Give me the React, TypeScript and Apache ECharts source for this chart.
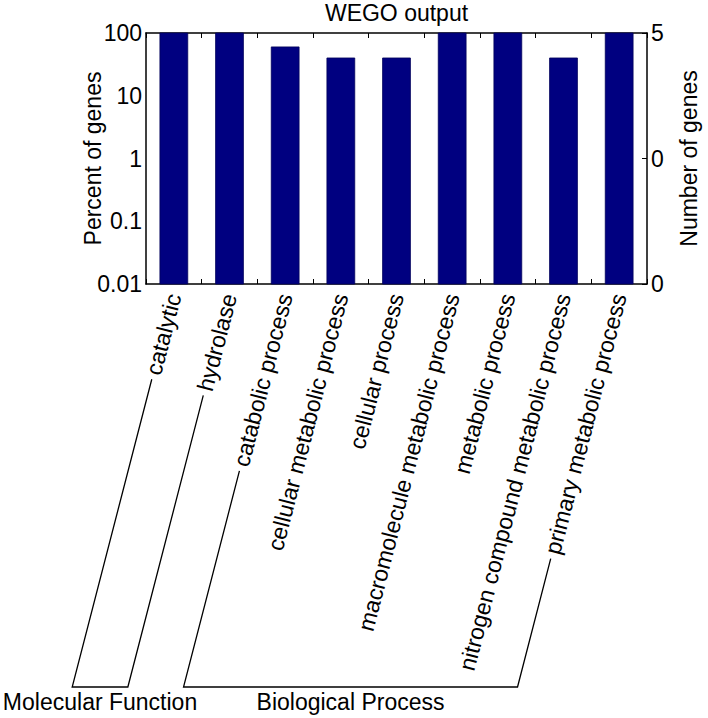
import React, { useEffect, useRef } from "react";
import * as echarts from "echarts";

const categories = [
  "catalytic",
  "hydrolase",
  "catabolic process",
  "cellular metabolic process",
  "cellular process",
  "macromolecule metabolic process",
  "metabolic process",
  "nitrogen compound metabolic process",
  "primary metabolic process",
];
const percentValues = [100, 100, 60, 40, 40, 100, 100, 40, 100];
const leftTickLabels = ["0.01", "0.1", "1", "10", "100"];
const rightTickLabels = ["0", "0", "5"];
const groupNames = ["Molecular Function", "Biological Process"];
const groupFirst = [0, 2];
const groupLast = [1, 8];

const FONT = "Liberation Sans, Arial, Helvetica, sans-serif";
const FS = 23;
const ROT = 75.5;
const LABEL_MARGIN = 10;
const GAP = 5;
const BRACKET_Y = 687;
const GROUP_LABEL_Y = 702;
const GRID = { left: 146, right: 61, top: 33, bottom: 434 };
const BAR_COLOR = "#000080";

function measure(text: string): number {
  const c = document.createElement("canvas");
  const ctx = c.getContext("2d");
  if (!ctx) return text.length * FS * 0.5;
  ctx.font = `${FS}px ${FONT}`;
  return ctx.measureText(text).width;
}

export default function App() {
  const ref = useRef<HTMLDivElement>(null);
  useEffect(() => {
    if (!ref.current) return;
    const chart = echarts.init(ref.current, undefined, { renderer: "svg" });
    const axisLine = { show: true, onZero: false, lineStyle: { color: "#000", width: 1.5 } };
    const option: any = {
      animation: false,
      backgroundColor: "#fff",
      grid: { ...GRID, containLabel: false },
      xAxis: [
        {
          type: "category",
          data: categories,
          position: "bottom",
          boundaryGap: true,
          axisLine,
          axisTick: { show: true, inside: true, length: 5, interval: 0, lineStyle: { color: "#000", width: 1 } },
          axisLabel: {
            interval: 0,
            rotate: ROT,
            margin: LABEL_MARGIN,
            fontSize: FS,
            fontFamily: FONT,
            color: "#000",
          },
          splitLine: { show: false },
        },
        {
          type: "category",
          data: categories,
          position: "top",
          boundaryGap: true,
          axisLine,
          axisTick: { show: true, inside: true, length: 5, interval: 0, lineStyle: { color: "#000", width: 1 } },
          axisLabel: { show: false },
          splitLine: { show: false },
        },
      ],
      yAxis: [
        {
          type: "log",
          logBase: 10,
          min: 0.01,
          max: 100,
          position: "left",
          axisLine,
          axisTick: { show: false },
          splitLine: { show: false },
          axisLabel: {
            margin: 4,
            fontSize: FS,
            fontFamily: FONT,
            color: "#000",
            formatter: (v: number) => leftTickLabels[Math.round(Math.log10(v)) + 2] ?? "",
          },
          name: "Percent of genes",
          nameLocation: "middle",
          nameRotate: 90,
          nameGap: 42,
          nameMoveOverlap: false,
          nameTextStyle: { fontSize: FS, fontFamily: FONT, color: "#000" },
        },
        {
          type: "value",
          min: 0,
          max: 2,
          interval: 1,
          position: "right",
          axisLine,
          axisTick: { show: true, inside: true, length: 5, lineStyle: { color: "#000", width: 1 } },
          splitLine: { show: false },
          axisLabel: {
            margin: 4,
            fontSize: FS,
            fontFamily: FONT,
            color: "#000",
            formatter: (v: number) => rightTickLabels[Math.round(v)] ?? "",
          },
          name: "Number of genes",
          nameLocation: "middle",
          nameRotate: 90,
          nameGap: 30,
          nameMoveOverlap: false,
          nameTextStyle: { fontSize: FS, fontFamily: FONT, color: "#000" },
        },
      ],
      series: [
        {
          type: "custom",
          xAxisIndex: 0,
          yAxisIndex: 0,
          data: percentValues.map((v, i) => [i, v]),
          renderItem: (params: any, api: any) => {
            const idx = api.value(0);
            const top = api.coord([idx, api.value(1)]);
            const bottom = api.coord([idx, 0.01]);
            const band = api.size([1, 0])[0];
            const w = band * 0.5;
            return {
              type: "rect",
              shape: { x: top[0] - w / 2, y: top[1], width: w, height: bottom[1] - top[1] },
              style: { fill: BAR_COLOR, stroke: "#00005a", lineWidth: 0.8 },
            };
          },
        },
      ],
    };
    chart.setOption(option);

    const yBottom = chart.convertToPixel({ yAxisIndex: 0 }, 0.01) as number;
    const rad = (ROT * Math.PI) / 180;
    const dx = -Math.cos(rad);
    const dy = Math.sin(rad);
    const ay = yBottom + LABEL_MARGIN;
    const ends = (i: number) => {
      const ax = chart.convertToPixel({ xAxisIndex: 0 }, categories[i]) as number;
      const t0 = measure(categories[i]) + GAP;
      const t1 = (BRACKET_Y - ay) / dy;
      return {
        start: [ax + t0 * dx, ay + t0 * dy],
        end: [ax + t1 * dx, ay + t1 * dy],
      };
    };
    const graphics: any[] = [];
    const gx0 = GRID.left;
    const gx1 = (chart.getWidth() as number) - GRID.right;
    graphics.push({
      type: "text",
      x: (gx0 + gx1) / 2,
      y: 13,
      style: { text: "WEGO output", fontSize: FS, fontFamily: FONT, fill: "#000", align: "center", verticalAlign: "middle" },
    });
    groupNames.forEach((name, g) => {
      const a = ends(groupFirst[g]);
      const b = ends(groupLast[g]);
      graphics.push({
        type: "polyline",
        shape: { points: [a.start, a.end, b.end, b.start] },
        style: { stroke: "#000", lineWidth: 1.3, fill: null },
      });
      graphics.push({
        type: "text",
        x: (a.end[0] + b.end[0]) / 2,
        y: GROUP_LABEL_Y,
        style: { text: name, fontSize: FS, fontFamily: FONT, fill: "#000", align: "center", verticalAlign: "middle" },
      });
    });
    chart.setOption({ graphic: graphics });

    return () => chart.dispose();
  }, []);
  return <div ref={ref} style={{ position: "absolute", left: 0, top: 0, width: 708, height: 718 }} />;
}
